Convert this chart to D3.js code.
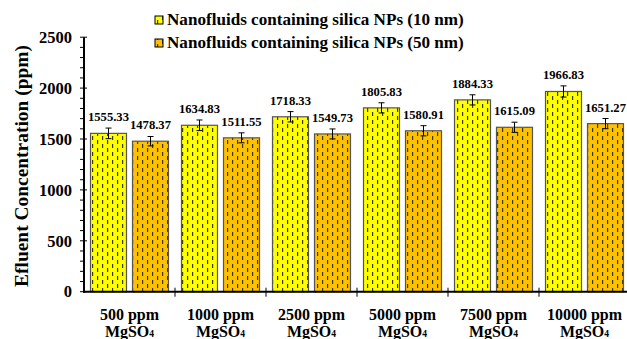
<!DOCTYPE html>
<html><head><meta charset="utf-8">
<script src="https://cdn.jsdelivr.net/npm/d3@7"></script>
<style>body{margin:0;background:#fff}svg{display:block}text{font-family:"Liberation Serif","Times New Roman",serif;font-weight:bold;fill:#000}</style>
</head><body><svg id="c" width="627" height="339"></svg>
<script>
const categories = ["500 ppm", "1000 ppm", "2500 ppm", "5000 ppm", "7500 ppm", "10000 ppm"];
const seriesNames = ["Nanofluids containing silica NPs (10 nm)", "Nanofluids containing silica NPs (50 nm)"];
const values10 = [1555.33, 1634.83, 1718.33, 1805.83, 1884.33, 1966.83];
const values50 = [1478.37, 1511.55, 1549.73, 1580.91, 1615.09, 1651.27];
const errors10 = [52, 52, 51, 50, 50, 55];
const errors50 = [46, 49, 49, 50, 50, 50];
const yTicks = [0, 500, 1000, 1500, 2000, 2500];
const colors = ["#ffff00", "#ffc000"];

const svg = d3.select("#c");
// font size fitting helper: size so that sample text reaches target width
function fitSize(sample, target) {
  const t = svg.append("text").style("font-size", "20px").text(sample);
  const w = t.node().getComputedTextLength();
  t.remove();
  return 20 * target / w;
}
const fsLegend = fitSize(seriesNames[0], 297);
const fsValue = fitSize("1966.83", 41);
const fsYLabel = fitSize("Efluent Concentration (ppm)", 242);
const fsTick = fitSize("2500", 33);
const fsCat = fitSize("10000 ppm", 75);

const x0 = 84, x1 = 630, yTop = 37.2, yBot = 291.7;
const x = d3.scaleBand().domain(categories).range([x0, x1]).paddingInner(0).paddingOuter(0);
const xs = d3.scaleBand().domain([0, 1]).range([0, x.bandwidth()]).paddingInner(6/42).paddingOuter(6.5/42);
const y = d3.scaleLinear().domain([0, 2500]).range([yBot, yTop]);

const defs = svg.append("defs");
colors.forEach((c, i) => {
  const p = defs.append("pattern").attr("id", "pat" + i).attr("patternUnits", "userSpaceOnUse")
    .attr("width", 10).attr("height", 8);
  p.append("rect").attr("width", 10).attr("height", 8).attr("fill", c);
  p.append("rect").attr("x", 2).attr("y", 0).attr("width", 1.2).attr("height", 4).attr("fill", "#3a3a10");
  p.append("rect").attr("x", 7).attr("y", 4).attr("width", 1.2).attr("height", 4).attr("fill", "#3a3a10");
});

const data = [values10, values50];
const errs = [errors10, errors50];
categories.forEach((cat, ci) => {
  [0, 1].forEach(si => {
    const v = data[si][ci], e = errs[si][ci];
    const bx = x(cat) + xs(si), bw = xs.bandwidth();
    svg.append("rect").attr("x", bx).attr("y", y(v)).attr("width", bw).attr("height", y(0) - y(v))
      .attr("fill", "url(#pat" + si + ")").attr("stroke", "#555").attr("stroke-width", 1.2);
    const cx = bx + bw / 2;
    svg.append("line").attr("x1", cx).attr("x2", cx).attr("y1", y(v + e)).attr("y2", y(v - e)).attr("stroke", "#000").attr("stroke-width", 1);
    [v + e, v - e].forEach(t => svg.append("line").attr("x1", cx - 3).attr("x2", cx + 3).attr("y1", y(t)).attr("y2", y(t)).attr("stroke", "#000").attr("stroke-width", 1));
    svg.append("text").attr("x", cx).attr("y", y(v) - 12).attr("text-anchor", "middle")
      .style("font-size", fsValue + "px").text(v.toFixed(2));
  });
});

// y axis
const g = svg.append("g");
g.append("line").attr("x1", x0).attr("x2", x0).attr("y1", yTop).attr("y2", yBot + 1).attr("stroke", "#000").attr("stroke-width", 2);
d3.range(0, 2501, 100).forEach(t => {
  const major = t % 500 === 0;
  g.append("line").attr("x1", x0 - 4).attr("x2", major ? x0 + 3 : x0)
    .attr("y1", y(t)).attr("y2", y(t)).attr("stroke", "#000").attr("stroke-width", 1);
});
yTicks.forEach(t => {
  g.append("text").attr("x", 72).attr("y", y(t)).attr("dy", "0.35em").attr("text-anchor", "end")
    .style("font-size", fsTick + "px").text(t);
});
// x axis
g.append("line").attr("x1", x0 - 1).attr("x2", 627).attr("y1", yBot).attr("y2", yBot).attr("stroke", "#000").attr("stroke-width", 2);
categories.forEach((cat, i) => {
  if (i > 0) g.append("line").attr("x1", x(cat)).attr("x2", x(cat)).attr("y1", yBot - 4).attr("y2", yBot + 5).attr("stroke", "#000").attr("stroke-width", 1);
  const cx = x(cat) + x.bandwidth() / 2;
  g.append("text").attr("x", cx).attr("y", 320).attr("text-anchor", "middle").style("font-size", fsCat + "px").text(cat);
  const t2 = g.append("text").attr("x", cx).attr("y", 337).attr("text-anchor", "middle").style("font-size", fsCat + "px");
  t2.append("tspan").text("MgSO");
  t2.append("tspan").style("font-size", (fsCat * 0.6) + "px").text("4");
});

// y label
svg.append("text").attr("transform", "translate(28,166) rotate(-90)").attr("text-anchor", "middle")
  .style("font-size", fsYLabel + "px").text("Efluent Concentration (ppm)");

// legend
seriesNames.forEach((s, i) => {
  const ly = 16 + i * 23;
  svg.append("rect").attr("x", 155).attr("y", ly).attr("width", 8).attr("height", 8)
    .attr("fill", "url(#pat" + i + ")").attr("stroke", "#000").attr("stroke-width", 1);
  svg.append("text").attr("x", 167).attr("y", ly + 9).style("font-size", fsLegend + "px").text(s);
});
</script></body></html>
